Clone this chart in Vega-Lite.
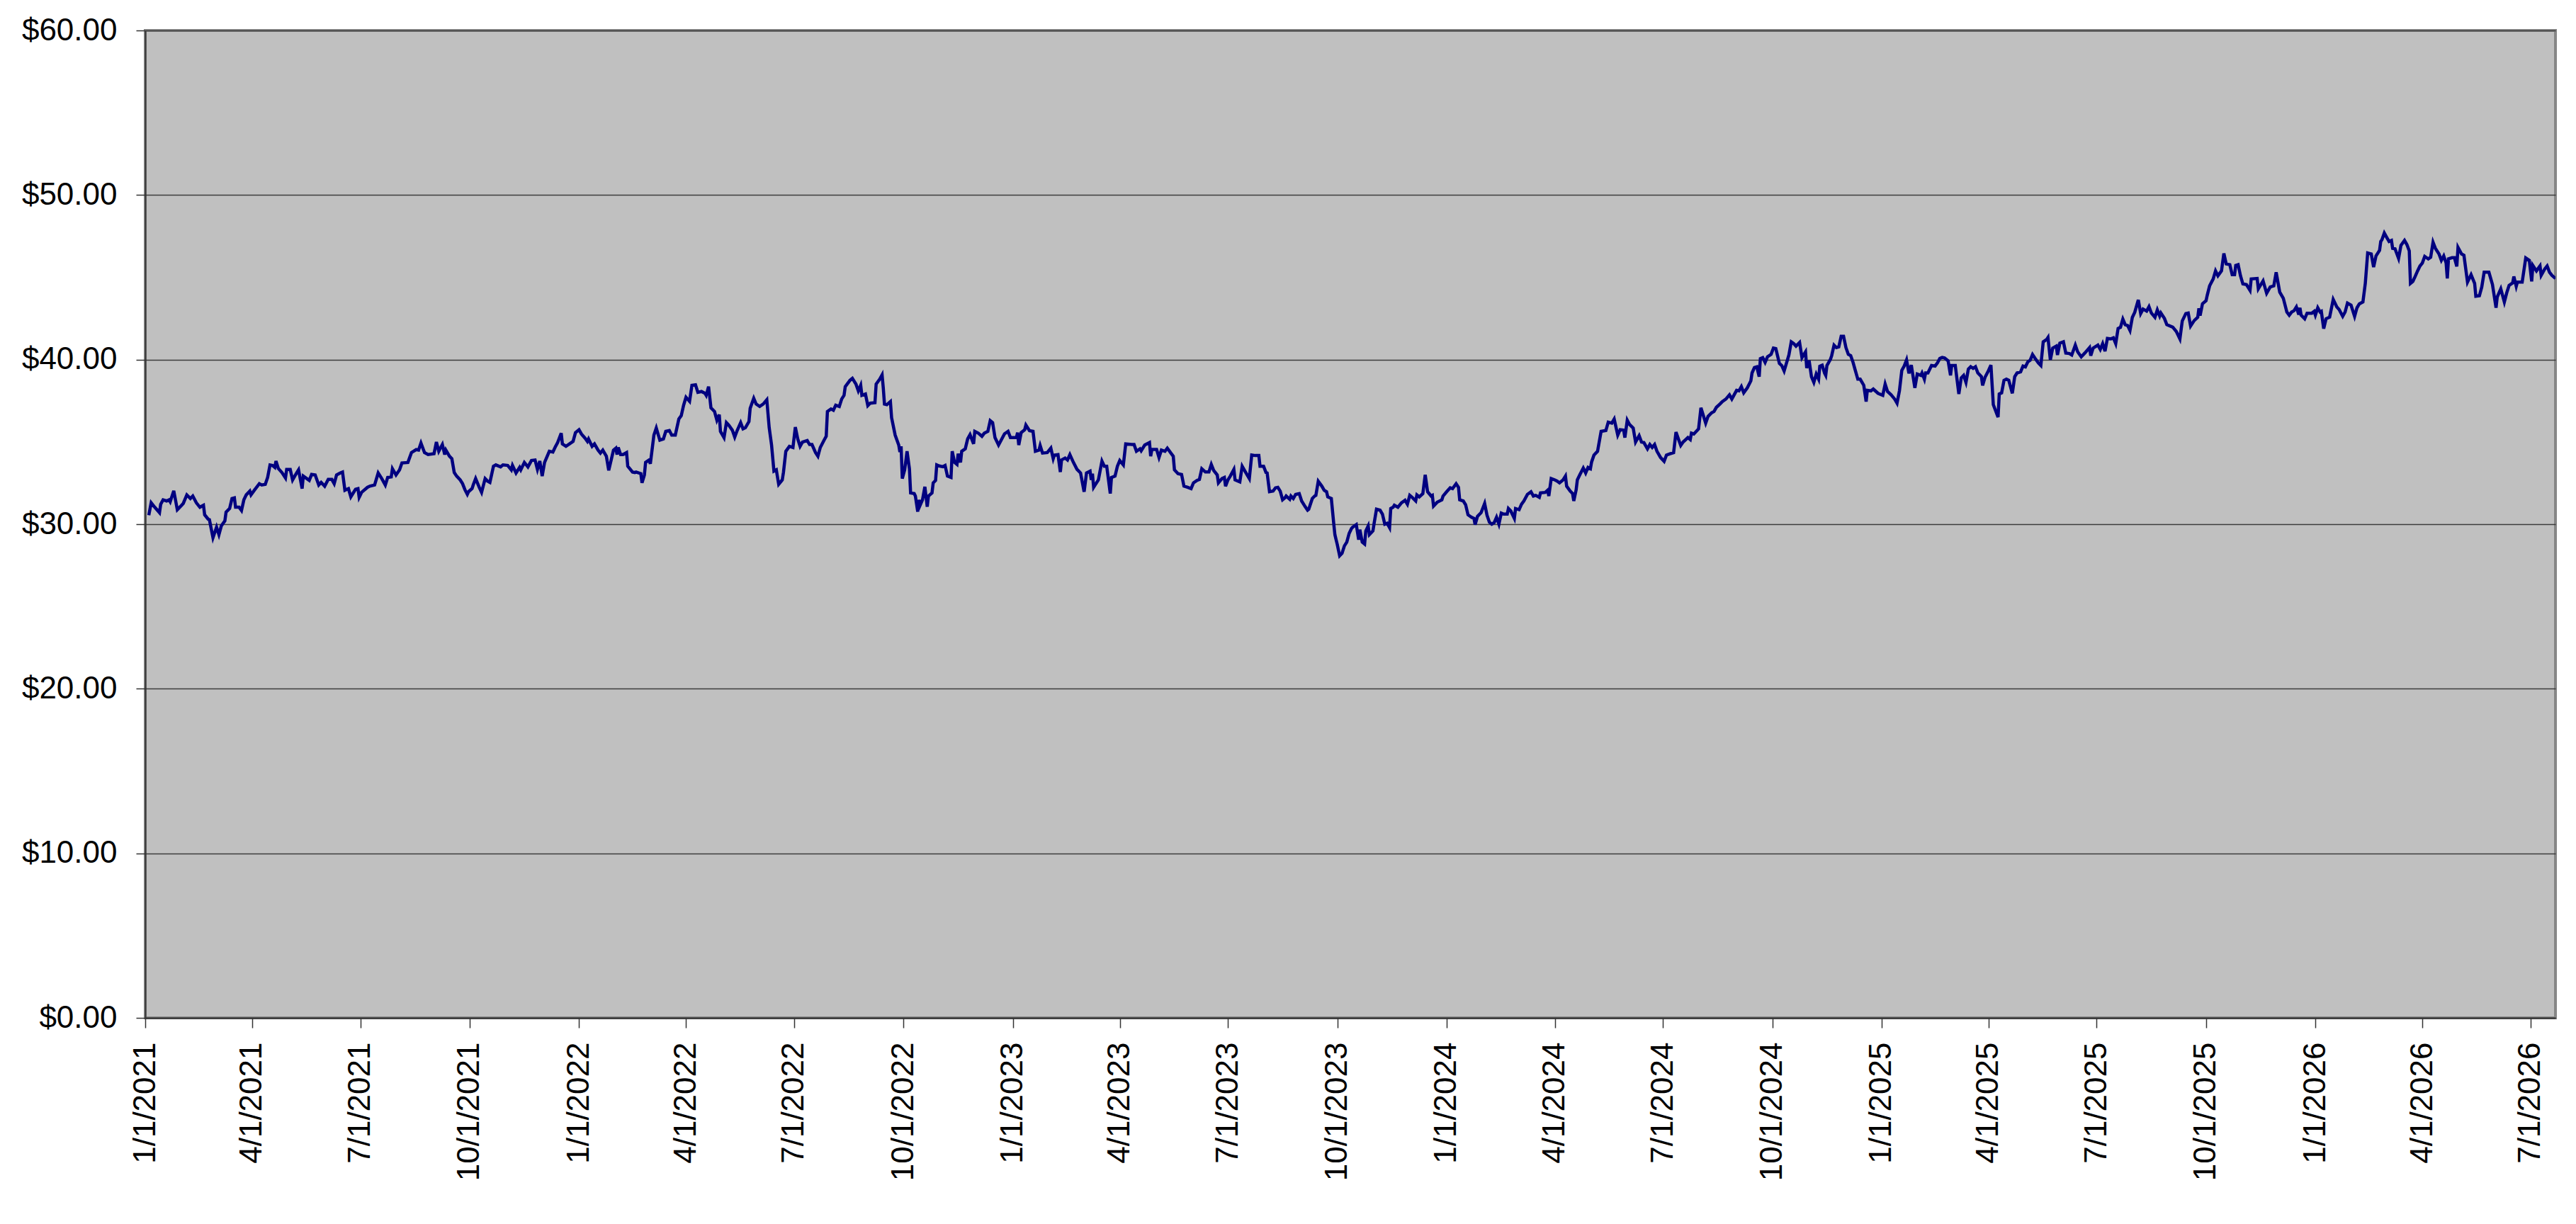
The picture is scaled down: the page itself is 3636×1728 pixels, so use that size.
{
  "$schema": "https://vega.github.io/schema/vega-lite/v6.json",
  "width": 3402,
  "height": 1394,
  "autosize": {"type": "none"},
  "padding": {"left": 205, "top": 43, "right": 29, "bottom": 291},
  "background": "white",
  "config": {
    "font": "Liberation Sans",
    "view": {"fill": "#C0C0C0", "stroke": "#868686", "strokeWidth": 4}
  },
  "data": {
    "values": [
      {"date": "2021-01-04", "price": 30.54}, {"date": "2021-01-06", "price": 31.30}, {"date": "2021-01-09", "price": 31.03},
      {"date": "2021-01-13", "price": 30.70}, {"date": "2021-01-14", "price": 31.21}, {"date": "2021-01-16", "price": 31.48},
      {"date": "2021-01-19", "price": 31.41}, {"date": "2021-01-21", "price": 31.48}, {"date": "2021-01-22", "price": 31.36},
      {"date": "2021-01-25", "price": 32.03}, {"date": "2021-01-28", "price": 30.88}, {"date": "2021-01-31", "price": 31.10},
      {"date": "2021-02-02", "price": 31.26}, {"date": "2021-02-05", "price": 31.78}, {"date": "2021-02-08", "price": 31.56},
      {"date": "2021-02-10", "price": 31.71}, {"date": "2021-02-13", "price": 31.30}, {"date": "2021-02-16", "price": 31.03},
      {"date": "2021-02-19", "price": 31.15}, {"date": "2021-02-20", "price": 30.57}, {"date": "2021-02-23", "price": 30.30},
      {"date": "2021-02-24", "price": 30.27}, {"date": "2021-02-27", "price": 29.18}, {"date": "2021-03-02", "price": 29.82},
      {"date": "2021-03-04", "price": 29.36}, {"date": "2021-03-06", "price": 29.89}, {"date": "2021-03-09", "price": 30.20},
      {"date": "2021-03-10", "price": 30.73}, {"date": "2021-03-13", "price": 30.95}, {"date": "2021-03-15", "price": 31.56},
      {"date": "2021-03-17", "price": 31.60}, {"date": "2021-03-18", "price": 31.03}, {"date": "2021-03-21", "price": 31.03},
      {"date": "2021-03-23", "price": 30.83}, {"date": "2021-03-25", "price": 31.48}, {"date": "2021-03-27", "price": 31.78},
      {"date": "2021-03-30", "price": 32.01}, {"date": "2021-03-31", "price": 31.78}, {"date": "2021-04-03", "price": 32.08},
      {"date": "2021-04-07", "price": 32.46}, {"date": "2021-04-09", "price": 32.38}, {"date": "2021-04-12", "price": 32.42},
      {"date": "2021-04-14", "price": 32.84}, {"date": "2021-04-16", "price": 33.60}, {"date": "2021-04-18", "price": 33.57},
      {"date": "2021-04-20", "price": 33.45}, {"date": "2021-04-21", "price": 33.83}, {"date": "2021-04-23", "price": 33.38},
      {"date": "2021-04-26", "price": 33.14}, {"date": "2021-04-29", "price": 32.81}, {"date": "2021-04-30", "price": 33.33},
      {"date": "2021-05-03", "price": 33.33}, {"date": "2021-05-05", "price": 32.69}, {"date": "2021-05-08", "price": 33.07},
      {"date": "2021-05-10", "price": 33.30}, {"date": "2021-05-13", "price": 32.16}, {"date": "2021-05-14", "price": 32.92},
      {"date": "2021-05-19", "price": 32.66}, {"date": "2021-05-21", "price": 33.02}, {"date": "2021-05-24", "price": 32.99},
      {"date": "2021-05-27", "price": 32.38}, {"date": "2021-05-29", "price": 32.54}, {"date": "2021-06-01", "price": 32.31},
      {"date": "2021-06-04", "price": 32.72}, {"date": "2021-06-07", "price": 32.72}, {"date": "2021-06-09", "price": 32.46},
      {"date": "2021-06-11", "price": 32.99}, {"date": "2021-06-14", "price": 33.11}, {"date": "2021-06-16", "price": 33.17},
      {"date": "2021-06-18", "price": 32.06}, {"date": "2021-06-21", "price": 32.16}, {"date": "2021-06-23", "price": 31.66},
      {"date": "2021-06-26", "price": 32.01}, {"date": "2021-06-27", "price": 32.12}, {"date": "2021-06-29", "price": 32.16},
      {"date": "2021-06-30", "price": 31.63}, {"date": "2021-07-02", "price": 31.93}, {"date": "2021-07-07", "price": 32.24},
      {"date": "2021-07-09", "price": 32.31}, {"date": "2021-07-13", "price": 32.38}, {"date": "2021-07-16", "price": 33.11},
      {"date": "2021-07-19", "price": 32.77}, {"date": "2021-07-22", "price": 32.38}, {"date": "2021-07-24", "price": 32.84},
      {"date": "2021-07-27", "price": 32.87}, {"date": "2021-07-28", "price": 33.37}, {"date": "2021-07-31", "price": 32.99},
      {"date": "2021-08-03", "price": 33.30}, {"date": "2021-08-05", "price": 33.72}, {"date": "2021-08-10", "price": 33.75},
      {"date": "2021-08-13", "price": 34.35}, {"date": "2021-08-17", "price": 34.53}, {"date": "2021-08-19", "price": 34.50},
      {"date": "2021-08-21", "price": 34.93}, {"date": "2021-08-24", "price": 34.35}, {"date": "2021-08-27", "price": 34.23},
      {"date": "2021-09-01", "price": 34.28}, {"date": "2021-09-03", "price": 34.99}, {"date": "2021-09-05", "price": 34.43},
      {"date": "2021-09-08", "price": 34.84}, {"date": "2021-09-10", "price": 34.23}, {"date": "2021-09-11", "price": 34.50},
      {"date": "2021-09-14", "price": 34.13}, {"date": "2021-09-16", "price": 33.98}, {"date": "2021-09-18", "price": 33.14},
      {"date": "2021-09-20", "price": 32.92}, {"date": "2021-09-23", "price": 32.69}, {"date": "2021-09-25", "price": 32.46},
      {"date": "2021-09-27", "price": 32.09}, {"date": "2021-09-29", "price": 31.81}, {"date": "2021-09-30", "price": 31.97},
      {"date": "2021-10-03", "price": 32.16}, {"date": "2021-10-04", "price": 32.39}, {"date": "2021-10-06", "price": 32.77},
      {"date": "2021-10-09", "price": 32.24}, {"date": "2021-10-11", "price": 31.93}, {"date": "2021-10-14", "price": 32.77},
      {"date": "2021-10-16", "price": 32.62}, {"date": "2021-10-18", "price": 32.54}, {"date": "2021-10-21", "price": 33.52},
      {"date": "2021-10-23", "price": 33.60}, {"date": "2021-10-27", "price": 33.48}, {"date": "2021-10-29", "price": 33.60},
      {"date": "2021-11-02", "price": 33.57}, {"date": "2021-11-05", "price": 33.30}, {"date": "2021-11-06", "price": 33.57},
      {"date": "2021-11-09", "price": 33.11}, {"date": "2021-11-12", "price": 33.45}, {"date": "2021-11-13", "price": 33.30},
      {"date": "2021-11-16", "price": 33.75}, {"date": "2021-11-19", "price": 33.48}, {"date": "2021-11-22", "price": 33.87},
      {"date": "2021-11-25", "price": 33.90}, {"date": "2021-11-27", "price": 33.33}, {"date": "2021-11-29", "price": 33.84},
      {"date": "2021-12-01", "price": 32.92}, {"date": "2021-12-03", "price": 33.75}, {"date": "2021-12-07", "price": 34.43},
      {"date": "2021-12-10", "price": 34.38}, {"date": "2021-12-12", "price": 34.69}, {"date": "2021-12-14", "price": 34.96},
      {"date": "2021-12-17", "price": 35.53}, {"date": "2021-12-18", "price": 34.88}, {"date": "2021-12-21", "price": 34.73},
      {"date": "2021-12-24", "price": 34.88}, {"date": "2021-12-27", "price": 35.03}, {"date": "2021-12-29", "price": 35.56},
      {"date": "2022-01-01", "price": 35.74}, {"date": "2022-01-03", "price": 35.48}, {"date": "2022-01-06", "price": 35.23},
      {"date": "2022-01-08", "price": 35.03}, {"date": "2022-01-09", "price": 35.18}, {"date": "2022-01-12", "price": 34.73},
      {"date": "2022-01-14", "price": 34.88}, {"date": "2022-01-17", "price": 34.50}, {"date": "2022-01-19", "price": 34.32},
      {"date": "2022-01-21", "price": 34.50}, {"date": "2022-01-24", "price": 34.13}, {"date": "2022-01-26", "price": 33.27},
      {"date": "2022-01-30", "price": 34.50}, {"date": "2022-02-01", "price": 34.62}, {"date": "2022-02-02", "price": 34.23},
      {"date": "2022-02-03", "price": 34.66}, {"date": "2022-02-05", "price": 34.23}, {"date": "2022-02-07", "price": 34.23},
      {"date": "2022-02-10", "price": 34.35}, {"date": "2022-02-11", "price": 33.52}, {"date": "2022-02-15", "price": 33.17},
      {"date": "2022-02-17", "price": 33.14}, {"date": "2022-02-18", "price": 33.17}, {"date": "2022-02-22", "price": 33.07},
      {"date": "2022-02-23", "price": 32.51}, {"date": "2022-02-25", "price": 32.99}, {"date": "2022-02-26", "price": 33.75},
      {"date": "2022-03-01", "price": 33.90}, {"date": "2022-03-02", "price": 33.67}, {"date": "2022-03-05", "price": 35.41},
      {"date": "2022-03-07", "price": 35.84}, {"date": "2022-03-10", "price": 35.11}, {"date": "2022-03-13", "price": 35.18},
      {"date": "2022-03-15", "price": 35.64}, {"date": "2022-03-18", "price": 35.69}, {"date": "2022-03-20", "price": 35.41},
      {"date": "2022-03-23", "price": 35.41}, {"date": "2022-03-26", "price": 36.39}, {"date": "2022-03-28", "price": 36.59},
      {"date": "2022-03-30", "price": 37.23}, {"date": "2022-04-01", "price": 37.71}, {"date": "2022-04-04", "price": 37.46},
      {"date": "2022-04-06", "price": 38.44}, {"date": "2022-04-09", "price": 38.47}, {"date": "2022-04-11", "price": 38.01},
      {"date": "2022-04-14", "price": 38.06}, {"date": "2022-04-17", "price": 37.95}, {"date": "2022-04-18", "price": 37.83},
      {"date": "2022-04-20", "price": 38.36}, {"date": "2022-04-22", "price": 37.07}, {"date": "2022-04-25", "price": 36.85},
      {"date": "2022-04-27", "price": 36.32}, {"date": "2022-04-29", "price": 36.65}, {"date": "2022-04-30", "price": 35.64},
      {"date": "2022-05-03", "price": 35.26}, {"date": "2022-05-05", "price": 36.17}, {"date": "2022-05-07", "price": 36.02},
      {"date": "2022-05-10", "price": 35.71}, {"date": "2022-05-12", "price": 35.29}, {"date": "2022-05-14", "price": 35.68},
      {"date": "2022-05-17", "price": 36.17}, {"date": "2022-05-19", "price": 35.79}, {"date": "2022-05-21", "price": 35.86},
      {"date": "2022-05-24", "price": 36.24}, {"date": "2022-05-25", "price": 37.04}, {"date": "2022-05-28", "price": 37.65},
      {"date": "2022-05-30", "price": 37.30}, {"date": "2022-06-02", "price": 37.15}, {"date": "2022-06-05", "price": 37.30},
      {"date": "2022-06-08", "price": 37.56}, {"date": "2022-06-10", "price": 35.87}, {"date": "2022-06-12", "price": 34.81},
      {"date": "2022-06-14", "price": 33.22}, {"date": "2022-06-16", "price": 33.30}, {"date": "2022-06-18", "price": 32.42},
      {"date": "2022-06-21", "price": 32.69}, {"date": "2022-06-22", "price": 33.14}, {"date": "2022-06-24", "price": 34.43},
      {"date": "2022-06-27", "price": 34.73}, {"date": "2022-06-30", "price": 34.66}, {"date": "2022-07-02", "price": 35.90},
      {"date": "2022-07-04", "price": 35.19}, {"date": "2022-07-06", "price": 34.73}, {"date": "2022-07-08", "price": 34.99},
      {"date": "2022-07-12", "price": 35.08}, {"date": "2022-07-14", "price": 34.84}, {"date": "2022-07-16", "price": 34.84},
      {"date": "2022-07-19", "price": 34.35}, {"date": "2022-07-21", "price": 34.13}, {"date": "2022-07-23", "price": 34.66},
      {"date": "2022-07-26", "price": 35.08}, {"date": "2022-07-28", "price": 35.34}, {"date": "2022-07-29", "price": 36.85},
      {"date": "2022-08-01", "price": 37.00}, {"date": "2022-08-03", "price": 36.92}, {"date": "2022-08-05", "price": 37.23},
      {"date": "2022-08-08", "price": 37.15}, {"date": "2022-08-10", "price": 37.60}, {"date": "2022-08-12", "price": 37.83},
      {"date": "2022-08-13", "price": 38.36}, {"date": "2022-08-17", "price": 38.74}, {"date": "2022-08-19", "price": 38.86},
      {"date": "2022-08-22", "price": 38.51}, {"date": "2022-08-24", "price": 38.10}, {"date": "2022-08-26", "price": 38.44},
      {"date": "2022-08-27", "price": 37.83}, {"date": "2022-08-30", "price": 37.91}, {"date": "2022-09-01", "price": 37.20},
      {"date": "2022-09-03", "price": 37.35}, {"date": "2022-09-07", "price": 37.38}, {"date": "2022-09-08", "price": 38.51},
      {"date": "2022-09-11", "price": 38.81}, {"date": "2022-09-13", "price": 39.07}, {"date": "2022-09-14", "price": 38.28},
      {"date": "2022-09-15", "price": 37.30}, {"date": "2022-09-17", "price": 37.26}, {"date": "2022-09-20", "price": 37.45},
      {"date": "2022-09-21", "price": 36.47}, {"date": "2022-09-24", "price": 35.41}, {"date": "2022-09-27", "price": 34.81},
      {"date": "2022-09-28", "price": 34.38}, {"date": "2022-09-29", "price": 34.73}, {"date": "2022-09-30", "price": 32.77},
      {"date": "2022-10-02", "price": 33.30}, {"date": "2022-10-04", "price": 34.43}, {"date": "2022-10-06", "price": 33.37},
      {"date": "2022-10-07", "price": 31.90}, {"date": "2022-10-10", "price": 31.86}, {"date": "2022-10-11", "price": 31.71},
      {"date": "2022-10-13", "price": 30.76}, {"date": "2022-10-14", "price": 31.48}, {"date": "2022-10-15", "price": 31.15},
      {"date": "2022-10-17", "price": 31.48}, {"date": "2022-10-19", "price": 32.27}, {"date": "2022-10-21", "price": 31.06},
      {"date": "2022-10-22", "price": 31.71}, {"date": "2022-10-25", "price": 31.90}, {"date": "2022-10-26", "price": 32.51},
      {"date": "2022-10-28", "price": 32.66}, {"date": "2022-10-29", "price": 33.60}, {"date": "2022-10-31", "price": 33.54},
      {"date": "2022-11-03", "price": 33.49}, {"date": "2022-11-05", "price": 33.57}, {"date": "2022-11-07", "price": 32.92},
      {"date": "2022-11-10", "price": 32.84}, {"date": "2022-11-11", "price": 34.43}, {"date": "2022-11-13", "price": 33.75},
      {"date": "2022-11-15", "price": 33.63}, {"date": "2022-11-16", "price": 34.28}, {"date": "2022-11-18", "price": 33.75},
      {"date": "2022-11-19", "price": 34.43}, {"date": "2022-11-22", "price": 34.58}, {"date": "2022-11-24", "price": 35.18},
      {"date": "2022-11-26", "price": 35.44}, {"date": "2022-11-29", "price": 34.88}, {"date": "2022-11-30", "price": 35.64},
      {"date": "2022-12-03", "price": 35.53}, {"date": "2022-12-06", "price": 35.34}, {"date": "2022-12-08", "price": 35.53},
      {"date": "2022-12-11", "price": 35.64}, {"date": "2022-12-13", "price": 36.29}, {"date": "2022-12-15", "price": 36.17},
      {"date": "2022-12-17", "price": 35.26}, {"date": "2022-12-20", "price": 34.81}, {"date": "2022-12-22", "price": 35.08},
      {"date": "2022-12-25", "price": 35.49}, {"date": "2022-12-28", "price": 35.64}, {"date": "2022-12-30", "price": 35.26},
      {"date": "2023-01-01", "price": 35.26}, {"date": "2023-01-04", "price": 35.26}, {"date": "2023-01-05", "price": 35.56},
      {"date": "2023-01-06", "price": 34.81}, {"date": "2023-01-08", "price": 35.56}, {"date": "2023-01-11", "price": 35.74},
      {"date": "2023-01-12", "price": 36.02}, {"date": "2023-01-15", "price": 35.68}, {"date": "2023-01-18", "price": 35.64},
      {"date": "2023-01-20", "price": 34.43}, {"date": "2023-01-23", "price": 34.50}, {"date": "2023-01-24", "price": 34.78},
      {"date": "2023-01-26", "price": 34.32}, {"date": "2023-01-30", "price": 34.35}, {"date": "2023-02-02", "price": 34.62},
      {"date": "2023-02-04", "price": 33.98}, {"date": "2023-02-05", "price": 34.20}, {"date": "2023-02-08", "price": 34.23},
      {"date": "2023-02-10", "price": 33.17}, {"date": "2023-02-11", "price": 33.90}, {"date": "2023-02-14", "price": 34.02},
      {"date": "2023-02-16", "price": 33.90}, {"date": "2023-02-18", "price": 34.23}, {"date": "2023-02-21", "price": 33.75},
      {"date": "2023-02-24", "price": 33.33}, {"date": "2023-02-27", "price": 33.11}, {"date": "2023-03-02", "price": 31.97},
      {"date": "2023-03-04", "price": 33.11}, {"date": "2023-03-07", "price": 33.22}, {"date": "2023-03-08", "price": 32.69},
      {"date": "2023-03-09", "price": 33.07}, {"date": "2023-03-10", "price": 32.24}, {"date": "2023-03-14", "price": 32.69},
      {"date": "2023-03-17", "price": 33.83}, {"date": "2023-03-19", "price": 33.52}, {"date": "2023-03-21", "price": 33.52},
      {"date": "2023-03-24", "price": 31.86}, {"date": "2023-03-25", "price": 32.84}, {"date": "2023-03-28", "price": 32.92},
      {"date": "2023-03-30", "price": 33.52}, {"date": "2023-04-01", "price": 33.87}, {"date": "2023-04-04", "price": 33.60},
      {"date": "2023-04-06", "price": 34.88}, {"date": "2023-04-11", "price": 34.84}, {"date": "2023-04-13", "price": 34.84},
      {"date": "2023-04-15", "price": 34.43}, {"date": "2023-04-18", "price": 34.58}, {"date": "2023-04-19", "price": 34.46},
      {"date": "2023-04-22", "price": 34.81}, {"date": "2023-04-26", "price": 34.96}, {"date": "2023-04-27", "price": 34.13},
      {"date": "2023-04-28", "price": 34.54}, {"date": "2023-05-02", "price": 34.54}, {"date": "2023-05-04", "price": 34.05},
      {"date": "2023-05-06", "price": 34.50}, {"date": "2023-05-09", "price": 34.43}, {"date": "2023-05-11", "price": 34.62},
      {"date": "2023-05-14", "price": 34.32}, {"date": "2023-05-16", "price": 34.13}, {"date": "2023-05-17", "price": 33.30},
      {"date": "2023-05-20", "price": 33.07}, {"date": "2023-05-23", "price": 33.02}, {"date": "2023-05-25", "price": 32.31},
      {"date": "2023-05-28", "price": 32.24}, {"date": "2023-05-31", "price": 32.16}, {"date": "2023-06-02", "price": 32.51},
      {"date": "2023-06-05", "price": 32.66}, {"date": "2023-06-07", "price": 32.72}, {"date": "2023-06-09", "price": 33.37},
      {"date": "2023-06-12", "price": 33.17}, {"date": "2023-06-15", "price": 33.17}, {"date": "2023-06-17", "price": 33.63},
      {"date": "2023-06-19", "price": 33.27}, {"date": "2023-06-22", "price": 32.99}, {"date": "2023-06-23", "price": 32.51},
      {"date": "2023-06-26", "price": 32.77}, {"date": "2023-06-28", "price": 32.84}, {"date": "2023-06-29", "price": 32.31},
      {"date": "2023-07-01", "price": 32.69}, {"date": "2023-07-03", "price": 32.92}, {"date": "2023-07-06", "price": 33.33},
      {"date": "2023-07-07", "price": 32.69}, {"date": "2023-07-11", "price": 32.57}, {"date": "2023-07-13", "price": 33.52},
      {"date": "2023-07-16", "price": 33.14}, {"date": "2023-07-19", "price": 32.77}, {"date": "2023-07-21", "price": 34.20},
      {"date": "2023-07-24", "price": 34.17}, {"date": "2023-07-27", "price": 34.17}, {"date": "2023-07-28", "price": 33.52},
      {"date": "2023-07-31", "price": 33.52}, {"date": "2023-08-02", "price": 33.14}, {"date": "2023-08-03", "price": 33.11},
      {"date": "2023-08-05", "price": 31.97}, {"date": "2023-08-08", "price": 32.01}, {"date": "2023-08-10", "price": 32.21},
      {"date": "2023-08-12", "price": 32.24}, {"date": "2023-08-14", "price": 32.01}, {"date": "2023-08-16", "price": 31.48},
      {"date": "2023-08-18", "price": 31.60}, {"date": "2023-08-19", "price": 31.71}, {"date": "2023-08-22", "price": 31.51},
      {"date": "2023-08-23", "price": 31.71}, {"date": "2023-08-25", "price": 31.56}, {"date": "2023-08-27", "price": 31.81},
      {"date": "2023-08-30", "price": 31.86}, {"date": "2023-09-01", "price": 31.41}, {"date": "2023-09-04", "price": 31.06},
      {"date": "2023-09-06", "price": 30.85}, {"date": "2023-09-07", "price": 30.91}, {"date": "2023-09-10", "price": 31.56},
      {"date": "2023-09-12", "price": 31.71}, {"date": "2023-09-13", "price": 31.75}, {"date": "2023-09-15", "price": 32.61},
      {"date": "2023-09-18", "price": 32.31}, {"date": "2023-09-20", "price": 32.06}, {"date": "2023-09-22", "price": 31.97},
      {"date": "2023-09-23", "price": 31.66}, {"date": "2023-09-26", "price": 31.56}, {"date": "2023-09-28", "price": 30.05},
      {"date": "2023-09-29", "price": 29.36}, {"date": "2023-10-01", "price": 28.76}, {"date": "2023-10-03", "price": 28.08},
      {"date": "2023-10-05", "price": 28.23}, {"date": "2023-10-07", "price": 28.68}, {"date": "2023-10-09", "price": 28.91},
      {"date": "2023-10-11", "price": 29.44}, {"date": "2023-10-13", "price": 29.74}, {"date": "2023-10-14", "price": 29.82},
      {"date": "2023-10-17", "price": 29.97}, {"date": "2023-10-19", "price": 29.06}, {"date": "2023-10-20", "price": 29.67},
      {"date": "2023-10-22", "price": 28.91}, {"date": "2023-10-24", "price": 28.79}, {"date": "2023-10-25", "price": 29.59},
      {"date": "2023-10-27", "price": 29.89}, {"date": "2023-10-28", "price": 29.36}, {"date": "2023-10-31", "price": 29.59},
      {"date": "2023-11-01", "price": 30.05}, {"date": "2023-11-03", "price": 30.91}, {"date": "2023-11-06", "price": 30.85},
      {"date": "2023-11-08", "price": 30.61}, {"date": "2023-11-10", "price": 30.00}, {"date": "2023-11-12", "price": 30.05},
      {"date": "2023-11-14", "price": 29.79}, {"date": "2023-11-15", "price": 30.95}, {"date": "2023-11-17", "price": 31.03},
      {"date": "2023-11-18", "price": 31.15}, {"date": "2023-11-21", "price": 31.03}, {"date": "2023-11-24", "price": 31.30},
      {"date": "2023-11-27", "price": 31.45}, {"date": "2023-11-29", "price": 31.21}, {"date": "2023-12-01", "price": 31.75},
      {"date": "2023-12-03", "price": 31.63}, {"date": "2023-12-06", "price": 31.41}, {"date": "2023-12-07", "price": 31.78},
      {"date": "2023-12-09", "price": 31.66}, {"date": "2023-12-12", "price": 31.86}, {"date": "2023-12-14", "price": 33.00},
      {"date": "2023-12-16", "price": 31.97}, {"date": "2023-12-19", "price": 31.71}, {"date": "2023-12-20", "price": 31.75},
      {"date": "2023-12-21", "price": 31.10}, {"date": "2023-12-24", "price": 31.33}, {"date": "2023-12-28", "price": 31.48},
      {"date": "2023-12-29", "price": 31.71}, {"date": "2024-01-01", "price": 31.97}, {"date": "2024-01-04", "price": 32.21},
      {"date": "2024-01-06", "price": 32.16}, {"date": "2024-01-09", "price": 32.46}, {"date": "2024-01-11", "price": 32.24},
      {"date": "2024-01-12", "price": 31.48}, {"date": "2024-01-15", "price": 31.41}, {"date": "2024-01-17", "price": 31.18},
      {"date": "2024-01-19", "price": 30.57}, {"date": "2024-01-22", "price": 30.42}, {"date": "2024-01-24", "price": 30.35},
      {"date": "2024-01-25", "price": 29.97}, {"date": "2024-01-27", "price": 30.48}, {"date": "2024-01-30", "price": 30.70},
      {"date": "2024-02-02", "price": 31.26}, {"date": "2024-02-04", "price": 30.54}, {"date": "2024-02-06", "price": 30.12},
      {"date": "2024-02-08", "price": 30.00}, {"date": "2024-02-10", "price": 30.09}, {"date": "2024-02-12", "price": 30.42},
      {"date": "2024-02-14", "price": 30.00}, {"date": "2024-02-16", "price": 30.67}, {"date": "2024-02-18", "price": 30.61},
      {"date": "2024-02-21", "price": 30.61}, {"date": "2024-02-22", "price": 30.95}, {"date": "2024-02-24", "price": 30.80},
      {"date": "2024-02-27", "price": 30.35}, {"date": "2024-02-28", "price": 30.95}, {"date": "2024-03-02", "price": 30.88},
      {"date": "2024-03-04", "price": 31.21}, {"date": "2024-03-06", "price": 31.41}, {"date": "2024-03-09", "price": 31.81},
      {"date": "2024-03-12", "price": 31.97}, {"date": "2024-03-14", "price": 31.71}, {"date": "2024-03-16", "price": 31.75},
      {"date": "2024-03-19", "price": 31.63}, {"date": "2024-03-20", "price": 31.90}, {"date": "2024-03-24", "price": 31.93},
      {"date": "2024-03-26", "price": 32.06}, {"date": "2024-03-27", "price": 31.71}, {"date": "2024-03-29", "price": 32.77},
      {"date": "2024-04-01", "price": 32.69}, {"date": "2024-04-03", "price": 32.62}, {"date": "2024-04-05", "price": 32.51},
      {"date": "2024-04-08", "price": 32.69}, {"date": "2024-04-10", "price": 32.92}, {"date": "2024-04-11", "price": 32.31},
      {"date": "2024-04-14", "price": 32.01}, {"date": "2024-04-16", "price": 31.86}, {"date": "2024-04-17", "price": 31.41},
      {"date": "2024-04-19", "price": 32.09}, {"date": "2024-04-20", "price": 32.69}, {"date": "2024-04-22", "price": 32.99},
      {"date": "2024-04-25", "price": 33.41}, {"date": "2024-04-27", "price": 33.11}, {"date": "2024-04-29", "price": 33.45},
      {"date": "2024-05-01", "price": 33.37}, {"date": "2024-05-02", "price": 33.78}, {"date": "2024-05-04", "price": 34.20},
      {"date": "2024-05-07", "price": 34.43}, {"date": "2024-05-10", "price": 35.64}, {"date": "2024-05-14", "price": 35.69},
      {"date": "2024-05-16", "price": 36.20}, {"date": "2024-05-19", "price": 36.14}, {"date": "2024-05-21", "price": 36.39},
      {"date": "2024-05-24", "price": 35.41}, {"date": "2024-05-26", "price": 35.74}, {"date": "2024-05-29", "price": 35.71},
      {"date": "2024-05-30", "price": 35.26}, {"date": "2024-06-01", "price": 36.32}, {"date": "2024-06-03", "price": 36.05},
      {"date": "2024-06-06", "price": 35.84}, {"date": "2024-06-08", "price": 34.99}, {"date": "2024-06-11", "price": 35.38},
      {"date": "2024-06-13", "price": 34.99}, {"date": "2024-06-15", "price": 34.96}, {"date": "2024-06-18", "price": 34.58},
      {"date": "2024-06-20", "price": 34.84}, {"date": "2024-06-22", "price": 34.66}, {"date": "2024-06-24", "price": 34.84},
      {"date": "2024-06-26", "price": 34.43}, {"date": "2024-06-29", "price": 34.05}, {"date": "2024-07-02", "price": 33.82},
      {"date": "2024-07-04", "price": 34.20}, {"date": "2024-07-07", "price": 34.28}, {"date": "2024-07-10", "price": 34.35},
      {"date": "2024-07-12", "price": 35.59}, {"date": "2024-07-16", "price": 34.78}, {"date": "2024-07-18", "price": 34.99},
      {"date": "2024-07-22", "price": 35.26}, {"date": "2024-07-24", "price": 35.14}, {"date": "2024-07-25", "price": 35.53},
      {"date": "2024-07-27", "price": 35.48}, {"date": "2024-07-31", "price": 35.79}, {"date": "2024-08-02", "price": 37.07},
      {"date": "2024-08-06", "price": 36.14}, {"date": "2024-08-08", "price": 36.55}, {"date": "2024-08-11", "price": 36.77},
      {"date": "2024-08-13", "price": 36.85}, {"date": "2024-08-15", "price": 37.10}, {"date": "2024-08-18", "price": 37.30},
      {"date": "2024-08-20", "price": 37.45}, {"date": "2024-08-23", "price": 37.60}, {"date": "2024-08-26", "price": 37.86},
      {"date": "2024-08-28", "price": 37.60}, {"date": "2024-09-01", "price": 38.13}, {"date": "2024-09-03", "price": 38.10},
      {"date": "2024-09-05", "price": 38.36}, {"date": "2024-09-07", "price": 37.98}, {"date": "2024-09-10", "price": 38.28},
      {"date": "2024-09-13", "price": 38.71}, {"date": "2024-09-14", "price": 39.19}, {"date": "2024-09-16", "price": 39.52},
      {"date": "2024-09-18", "price": 39.56}, {"date": "2024-09-20", "price": 38.96}, {"date": "2024-09-21", "price": 40.06},
      {"date": "2024-09-23", "price": 40.12}, {"date": "2024-09-25", "price": 39.83}, {"date": "2024-09-27", "price": 40.17},
      {"date": "2024-09-30", "price": 40.32}, {"date": "2024-10-02", "price": 40.70}, {"date": "2024-10-04", "price": 40.67},
      {"date": "2024-10-07", "price": 39.77}, {"date": "2024-10-09", "price": 39.64}, {"date": "2024-10-11", "price": 39.31},
      {"date": "2024-10-15", "price": 40.28}, {"date": "2024-10-17", "price": 41.08}, {"date": "2024-10-19", "price": 40.98},
      {"date": "2024-10-21", "price": 40.82}, {"date": "2024-10-24", "price": 41.04}, {"date": "2024-10-26", "price": 40.12},
      {"date": "2024-10-29", "price": 40.47}, {"date": "2024-10-30", "price": 39.49}, {"date": "2024-11-01", "price": 39.95},
      {"date": "2024-11-03", "price": 38.96}, {"date": "2024-11-05", "price": 38.62}, {"date": "2024-11-07", "price": 39.12},
      {"date": "2024-11-09", "price": 38.81}, {"date": "2024-11-10", "price": 39.60}, {"date": "2024-11-12", "price": 39.66},
      {"date": "2024-11-14", "price": 39.18}, {"date": "2024-11-15", "price": 39.04}, {"date": "2024-11-16", "price": 39.64},
      {"date": "2024-11-19", "price": 40.02}, {"date": "2024-11-20", "price": 40.24}, {"date": "2024-11-22", "price": 40.88},
      {"date": "2024-11-24", "price": 40.73}, {"date": "2024-11-26", "price": 40.77}, {"date": "2024-11-28", "price": 41.42},
      {"date": "2024-11-30", "price": 41.42}, {"date": "2024-12-02", "price": 40.73}, {"date": "2024-12-04", "price": 40.32},
      {"date": "2024-12-06", "price": 40.24}, {"date": "2024-12-08", "price": 39.83}, {"date": "2024-12-10", "price": 39.31},
      {"date": "2024-12-12", "price": 38.81}, {"date": "2024-12-14", "price": 38.81}, {"date": "2024-12-17", "price": 38.44},
      {"date": "2024-12-19", "price": 37.45}, {"date": "2024-12-20", "price": 38.13}, {"date": "2024-12-23", "price": 38.10},
      {"date": "2024-12-25", "price": 38.21}, {"date": "2024-12-29", "price": 37.95}, {"date": "2025-01-02", "price": 37.83},
      {"date": "2025-01-04", "price": 38.51}, {"date": "2025-01-06", "price": 38.06}, {"date": "2025-01-09", "price": 37.86},
      {"date": "2025-01-12", "price": 37.60}, {"date": "2025-01-14", "price": 37.35}, {"date": "2025-01-16", "price": 38.10},
      {"date": "2025-01-18", "price": 39.34}, {"date": "2025-01-20", "price": 39.61}, {"date": "2025-01-22", "price": 39.98},
      {"date": "2025-01-24", "price": 39.16}, {"date": "2025-01-26", "price": 39.67}, {"date": "2025-01-29", "price": 38.28},
      {"date": "2025-01-31", "price": 39.12}, {"date": "2025-02-03", "price": 39.04}, {"date": "2025-02-04", "price": 39.19},
      {"date": "2025-02-06", "price": 38.81}, {"date": "2025-02-07", "price": 39.19}, {"date": "2025-02-09", "price": 39.19},
      {"date": "2025-02-12", "price": 39.64}, {"date": "2025-02-15", "price": 39.61}, {"date": "2025-02-17", "price": 39.80},
      {"date": "2025-02-19", "price": 40.07}, {"date": "2025-02-21", "price": 40.13}, {"date": "2025-02-23", "price": 40.10},
      {"date": "2025-02-26", "price": 39.92}, {"date": "2025-02-28", "price": 39.04}, {"date": "2025-03-01", "price": 39.64},
      {"date": "2025-03-04", "price": 39.64}, {"date": "2025-03-07", "price": 37.91}, {"date": "2025-03-09", "price": 38.89},
      {"date": "2025-03-11", "price": 39.04}, {"date": "2025-03-13", "price": 38.62}, {"date": "2025-03-15", "price": 39.42},
      {"date": "2025-03-17", "price": 39.57}, {"date": "2025-03-19", "price": 39.47}, {"date": "2025-03-21", "price": 39.57},
      {"date": "2025-03-23", "price": 39.19}, {"date": "2025-03-26", "price": 38.96}, {"date": "2025-03-27", "price": 38.43},
      {"date": "2025-03-29", "price": 38.92}, {"date": "2025-04-01", "price": 39.34}, {"date": "2025-04-03", "price": 39.67},
      {"date": "2025-04-05", "price": 37.26}, {"date": "2025-04-09", "price": 36.50}, {"date": "2025-04-10", "price": 37.91},
      {"date": "2025-04-12", "price": 37.98}, {"date": "2025-04-14", "price": 38.74}, {"date": "2025-04-16", "price": 38.81},
      {"date": "2025-04-18", "price": 38.74}, {"date": "2025-04-21", "price": 37.95}, {"date": "2025-04-23", "price": 38.96},
      {"date": "2025-04-25", "price": 39.19}, {"date": "2025-04-28", "price": 39.26}, {"date": "2025-04-30", "price": 39.61},
      {"date": "2025-05-02", "price": 39.56}, {"date": "2025-05-04", "price": 39.86}, {"date": "2025-05-06", "price": 39.96},
      {"date": "2025-05-08", "price": 40.31}, {"date": "2025-05-10", "price": 40.09}, {"date": "2025-05-13", "price": 39.79},
      {"date": "2025-05-15", "price": 39.64}, {"date": "2025-05-17", "price": 41.08}, {"date": "2025-05-20", "price": 41.23},
      {"date": "2025-05-21", "price": 41.34}, {"date": "2025-05-23", "price": 39.98}, {"date": "2025-05-25", "price": 40.70},
      {"date": "2025-05-28", "price": 40.82}, {"date": "2025-05-29", "price": 40.28}, {"date": "2025-05-31", "price": 41.00},
      {"date": "2025-06-03", "price": 41.08}, {"date": "2025-06-05", "price": 40.40}, {"date": "2025-06-08", "price": 40.37},
      {"date": "2025-06-10", "price": 40.28}, {"date": "2025-06-13", "price": 40.88}, {"date": "2025-06-15", "price": 40.47},
      {"date": "2025-06-18", "price": 40.17}, {"date": "2025-06-21", "price": 40.40}, {"date": "2025-06-25", "price": 40.73},
      {"date": "2025-06-26", "price": 40.24}, {"date": "2025-06-28", "price": 40.70}, {"date": "2025-07-02", "price": 40.88},
      {"date": "2025-07-04", "price": 40.62}, {"date": "2025-07-06", "price": 40.97}, {"date": "2025-07-08", "price": 40.51},
      {"date": "2025-07-10", "price": 41.29}, {"date": "2025-07-13", "price": 41.26}, {"date": "2025-07-15", "price": 41.32},
      {"date": "2025-07-17", "price": 40.97}, {"date": "2025-07-19", "price": 41.89}, {"date": "2025-07-21", "price": 41.96},
      {"date": "2025-07-23", "price": 42.46}, {"date": "2025-07-25", "price": 42.12}, {"date": "2025-07-27", "price": 42.07},
      {"date": "2025-07-29", "price": 41.77}, {"date": "2025-07-31", "price": 42.57}, {"date": "2025-08-02", "price": 42.87},
      {"date": "2025-08-05", "price": 43.63}, {"date": "2025-08-07", "price": 42.80}, {"date": "2025-08-09", "price": 43.07},
      {"date": "2025-08-12", "price": 42.95}, {"date": "2025-08-14", "price": 43.22}, {"date": "2025-08-16", "price": 42.83},
      {"date": "2025-08-19", "price": 42.57}, {"date": "2025-08-21", "price": 43.02}, {"date": "2025-08-23", "price": 42.65},
      {"date": "2025-08-24", "price": 42.83}, {"date": "2025-08-27", "price": 42.50}, {"date": "2025-08-29", "price": 42.12},
      {"date": "2025-09-03", "price": 41.97}, {"date": "2025-09-06", "price": 41.71}, {"date": "2025-09-09", "price": 41.26},
      {"date": "2025-09-11", "price": 42.35}, {"date": "2025-09-14", "price": 42.80}, {"date": "2025-09-16", "price": 42.83},
      {"date": "2025-09-18", "price": 42.04}, {"date": "2025-09-21", "price": 42.37}, {"date": "2025-09-24", "price": 42.57},
      {"date": "2025-09-25", "price": 43.12}, {"date": "2025-09-26", "price": 42.67}, {"date": "2025-09-28", "price": 43.39},
      {"date": "2025-10-01", "price": 43.58}, {"date": "2025-10-02", "price": 43.91}, {"date": "2025-10-04", "price": 44.48},
      {"date": "2025-10-07", "price": 44.90}, {"date": "2025-10-09", "price": 45.39}, {"date": "2025-10-11", "price": 45.09},
      {"date": "2025-10-14", "price": 45.39}, {"date": "2025-10-16", "price": 46.45}, {"date": "2025-10-18", "price": 45.81},
      {"date": "2025-10-21", "price": 45.77}, {"date": "2025-10-23", "price": 45.16}, {"date": "2025-10-25", "price": 45.16},
      {"date": "2025-10-26", "price": 45.72}, {"date": "2025-10-28", "price": 45.77}, {"date": "2025-10-30", "price": 45.09},
      {"date": "2025-11-01", "price": 44.60}, {"date": "2025-11-04", "price": 44.56}, {"date": "2025-11-07", "price": 44.21},
      {"date": "2025-11-08", "price": 44.90}, {"date": "2025-11-13", "price": 44.93}, {"date": "2025-11-14", "price": 44.30},
      {"date": "2025-11-18", "price": 44.78}, {"date": "2025-11-21", "price": 44.03}, {"date": "2025-11-24", "price": 44.41},
      {"date": "2025-11-27", "price": 44.48}, {"date": "2025-11-29", "price": 45.31}, {"date": "2025-12-02", "price": 44.10},
      {"date": "2025-12-05", "price": 43.73}, {"date": "2025-12-08", "price": 42.89}, {"date": "2025-12-10", "price": 42.70},
      {"date": "2025-12-12", "price": 42.89}, {"date": "2025-12-14", "price": 42.97}, {"date": "2025-12-16", "price": 43.20},
      {"date": "2025-12-18", "price": 42.74}, {"date": "2025-12-19", "price": 43.15}, {"date": "2025-12-20", "price": 42.70},
      {"date": "2025-12-23", "price": 42.48}, {"date": "2025-12-25", "price": 42.82}, {"date": "2025-12-29", "price": 42.82},
      {"date": "2025-12-31", "price": 42.93}, {"date": "2026-01-01", "price": 42.70}, {"date": "2026-01-03", "price": 43.15},
      {"date": "2026-01-05", "price": 42.89}, {"date": "2026-01-06", "price": 42.93}, {"date": "2026-01-08", "price": 41.88},
      {"date": "2026-01-10", "price": 42.48}, {"date": "2026-01-13", "price": 42.58}, {"date": "2026-01-16", "price": 43.65},
      {"date": "2026-01-19", "price": 43.20}, {"date": "2026-01-21", "price": 43.04}, {"date": "2026-01-24", "price": 42.63},
      {"date": "2026-01-26", "price": 42.89}, {"date": "2026-01-28", "price": 43.43}, {"date": "2026-01-31", "price": 43.31},
      {"date": "2026-02-03", "price": 42.63}, {"date": "2026-02-05", "price": 43.15}, {"date": "2026-02-07", "price": 43.39},
      {"date": "2026-02-10", "price": 43.50}, {"date": "2026-02-12", "price": 44.63}, {"date": "2026-02-14", "price": 46.48},
      {"date": "2026-02-17", "price": 46.42}, {"date": "2026-02-19", "price": 45.62}, {"date": "2026-02-21", "price": 46.30},
      {"date": "2026-02-24", "price": 46.64}, {"date": "2026-02-25", "price": 47.18}, {"date": "2026-02-26", "price": 47.28},
      {"date": "2026-02-28", "price": 47.69}, {"date": "2026-03-02", "price": 47.43}, {"date": "2026-03-04", "price": 47.18},
      {"date": "2026-03-06", "price": 47.24}, {"date": "2026-03-07", "price": 46.76}, {"date": "2026-03-09", "price": 46.73},
      {"date": "2026-03-12", "price": 46.15}, {"date": "2026-03-14", "price": 46.94}, {"date": "2026-03-17", "price": 47.24},
      {"date": "2026-03-19", "price": 46.99}, {"date": "2026-03-21", "price": 46.61}, {"date": "2026-03-22", "price": 44.63},
      {"date": "2026-03-24", "price": 44.75}, {"date": "2026-03-26", "price": 45.06}, {"date": "2026-03-28", "price": 45.39},
      {"date": "2026-03-30", "price": 45.69}, {"date": "2026-04-01", "price": 45.87}, {"date": "2026-04-03", "price": 46.27},
      {"date": "2026-04-06", "price": 46.12}, {"date": "2026-04-08", "price": 46.22}, {"date": "2026-04-10", "price": 47.13},
      {"date": "2026-04-12", "price": 46.76}, {"date": "2026-04-15", "price": 46.42}, {"date": "2026-04-17", "price": 46.03},
      {"date": "2026-04-19", "price": 46.30}, {"date": "2026-04-21", "price": 45.87}, {"date": "2026-04-22", "price": 44.93},
      {"date": "2026-04-23", "price": 46.12}, {"date": "2026-04-26", "price": 46.19}, {"date": "2026-04-28", "price": 46.19},
      {"date": "2026-04-30", "price": 45.66}, {"date": "2026-05-01", "price": 46.82}, {"date": "2026-05-04", "price": 46.42},
      {"date": "2026-05-06", "price": 46.34}, {"date": "2026-05-09", "price": 44.71}, {"date": "2026-05-12", "price": 45.16},
      {"date": "2026-05-15", "price": 44.63}, {"date": "2026-05-16", "price": 43.85}, {"date": "2026-05-19", "price": 43.88},
      {"date": "2026-05-21", "price": 44.41}, {"date": "2026-05-23", "price": 45.31}, {"date": "2026-05-27", "price": 45.31},
      {"date": "2026-05-30", "price": 44.56}, {"date": "2026-06-02", "price": 43.15}, {"date": "2026-06-03", "price": 43.80},
      {"date": "2026-06-06", "price": 44.30}, {"date": "2026-06-09", "price": 43.50}, {"date": "2026-06-11", "price": 44.06},
      {"date": "2026-06-13", "price": 44.51}, {"date": "2026-06-16", "price": 44.66}, {"date": "2026-06-17", "price": 45.05},
      {"date": "2026-06-19", "price": 44.45}, {"date": "2026-06-20", "price": 44.71}, {"date": "2026-06-24", "price": 44.71},
      {"date": "2026-06-27", "price": 46.18}, {"date": "2026-06-30", "price": 46.03}, {"date": "2026-07-02", "price": 44.75},
      {"date": "2026-07-03", "price": 45.72}, {"date": "2026-07-06", "price": 45.39}, {"date": "2026-07-09", "price": 45.69},
      {"date": "2026-07-10", "price": 45.12}, {"date": "2026-07-13", "price": 45.51}, {"date": "2026-07-15", "price": 45.69},
      {"date": "2026-07-17", "price": 45.31}, {"date": "2026-07-19", "price": 45.12}, {"date": "2026-07-22", "price": 44.93}
    ]
  },
  "mark": {"type": "line", "color": "#000080", "strokeWidth": 4.5, "clip": true},
  "encoding": {
    "x": {
      "field": "date",
      "type": "temporal",
      "scale": {
        "type": "utc",
        "domain": [
          {"year": 2021, "month": 1, "date": 1, "utc": true},
          {"year": 2026, "month": 7, "date": 22, "utc": true}
        ]
      },
      "axis": {
        "title": null,
        "labelExpr": "utcFormat(datum.value, '%-m/%-d/%Y')",
        "tickCount": {"interval": "month", "step": 3},
        "labelAngle": 270,
        "labelFontSize": 44,
        "labelColor": "#000000",
        "labelPadding": 20,
        "labelLimit": 400,
        "labelOverlap": false,
        "labelFlush": false,
        "tickSize": 14,
        "tickColor": "#333333",
        "tickWidth": 1.5,
        "domainColor": "#333333",
        "domainWidth": 2,
        "grid": false
      }
    },
    "y": {
      "field": "price",
      "type": "quantitative",
      "scale": {"domain": [0, 60], "nice": false},
      "axis": {
        "title": null,
        "values": [0, 10, 20, 30, 40, 50, 60],
        "format": "$.2f",
        "labelFontSize": 44,
        "labelColor": "#000000",
        "labelPadding": 27,
        "labelLimit": 400,
        "tickSize": 13,
        "tickColor": "#333333",
        "tickWidth": 1.5,
        "domainColor": "#333333",
        "domainWidth": 2,
        "gridColor": "#3c3c3c",
        "gridWidth": 1.5,
        "gridOpacity": 1
      }
    }
  }
}
